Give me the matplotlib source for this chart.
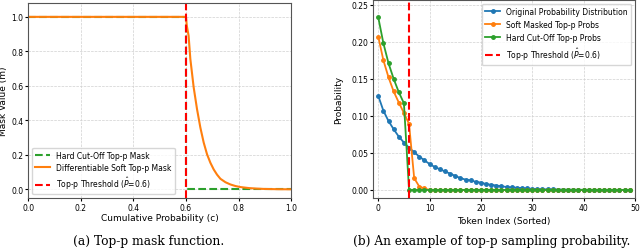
import matplotlib.pyplot as plt

# --- panel (a): mask vs cumulative probability
hard_c = [0.0, 0.6, 0.6, 1.0]
hard_m = [1.0, 1.0, 0.0, 0.0]
soft_c = [0.0, 0.6, 0.603, 0.61, 0.6165, 0.6292, 0.6419, 0.6546, 0.6673,
          0.68, 0.6927, 0.7054, 0.718, 0.7308, 0.75, 0.769, 0.788, 0.807,
          0.84, 0.87, 0.9, 0.95, 1.0]
soft_m = [1.0, 1.0, 0.95, 0.89, 0.757, 0.592, 0.466, 0.359, 0.272,
          0.204, 0.155, 0.116, 0.086, 0.062, 0.042, 0.029, 0.02, 0.014,
          0.008, 0.005, 0.003, 0.0015, 0.001]
p_hat = 0.6

# --- panel (b): token probabilities
orig = [0.127, 0.107, 0.093, 0.082, 0.072, 0.064, 0.057, 0.051, 0.045, 0.040,
        0.035, 0.031, 0.028, 0.025, 0.022, 0.019, 0.016, 0.014, 0.013, 0.011,
        0.010, 0.008, 0.007, 0.006, 0.005, 0.004, 0.0035, 0.003, 0.0025, 0.002,
        0.0015, 0.0012, 0.001, 0.0008, 0.0007, 0.0006, 0.0005, 0.0004, 0.0003,
        0.0003, 0.0002, 0.0002, 0.0001, 0.0001, 0.0001, 0.0001, 0.0, 0.0, 0.0,
        0.0]
soft = [0.207, 0.175, 0.152, 0.133, 0.118, 0.104, 0.089, 0.016, 0.0045,
        0.002] + [0.0] * 40
hard = [0.233, 0.198, 0.171, 0.150, 0.132, 0.117] + [0.0] * 44
tokens = list(range(len(orig)))
k_hat = 6

fig = plt.figure(figsize=(6.4, 2.53), dpi=100)
ax1 = fig.add_axes([0.044, 0.213, 0.411, 0.771])
ax2 = fig.add_axes([0.583, 0.213, 0.409, 0.782])

# (a)
ax1.plot(hard_c, hard_m, '--', color='tab:green', lw=1.5,
         label='Hard Cut-Off Top-p Mask')
ax1.plot(soft_c, soft_m, '-', color='tab:orange', lw=1.5,
         label='Differentiable Soft Top-p Mask')
ax1.axvline(p_hat, color='red', ls='--', lw=1.5,
            label=r'Top-p Threshold ($\hat{P}$=0.6)')
ax1.set_xlim(0, 1)
ax1.set_ylim(-0.05, 1.08)
ax1.set_xticks([0, 0.2, 0.4, 0.6, 0.8, 1.0])
ax1.set_xlabel('Cumulative Probability (c)', fontsize=6.5, labelpad=1)
ax1.set_ylabel('Mask Value (m)', fontsize=6.5, labelpad=2)
ax1.legend(loc='lower left', fontsize=5.5, framealpha=0.8,
           borderpad=0.4, labelspacing=0.4)

# (b)
ax2.plot(tokens, orig, '-o', color='tab:blue', ms=2.5, lw=1.3,
         label='Original Probability Distribution')
ax2.plot(tokens, soft, '-o', color='tab:orange', ms=2.5, lw=1.3,
         label='Soft Masked Top-p Probs')
ax2.plot(tokens, hard, '-o', color='tab:green', ms=2.5, lw=1.3,
         label='Hard Cut-Off Top-p Probs')
ax2.axvline(k_hat, color='red', ls='--', lw=1.5,
            label=r'Top-p Threshold ($\hat{P}$=0.6)')
ax2.set_xlim(-1, 50)
ax2.set_ylim(-0.011, 0.256)
ax2.set_xlabel('Token Index (Sorted)', fontsize=6.5, labelpad=3)
ax2.set_ylabel('Probability', fontsize=6.5, labelpad=6)
ax2.legend(loc='upper right', fontsize=5.5, framealpha=0.8)

for ax in (ax1, ax2):
    ax.tick_params(labelsize=5.5, length=2, pad=1.5)
    ax.grid(True, ls='--', lw=0.5, color='#d0d0d0')
    for s in ax.spines.values():
        s.set_color('#555555')
        s.set_linewidth(0.8)

fig.text(0.232, 0.045, '(a) Top-p mask function.', ha='center', va='center',
         family='DejaVu Serif', fontsize=8.8)
fig.text(0.768, 0.045, '(b) An example of top-p sampling probability.',
         ha='center', va='center', family='DejaVu Serif', fontsize=8.7)

fig.savefig('out.png', dpi=100)
